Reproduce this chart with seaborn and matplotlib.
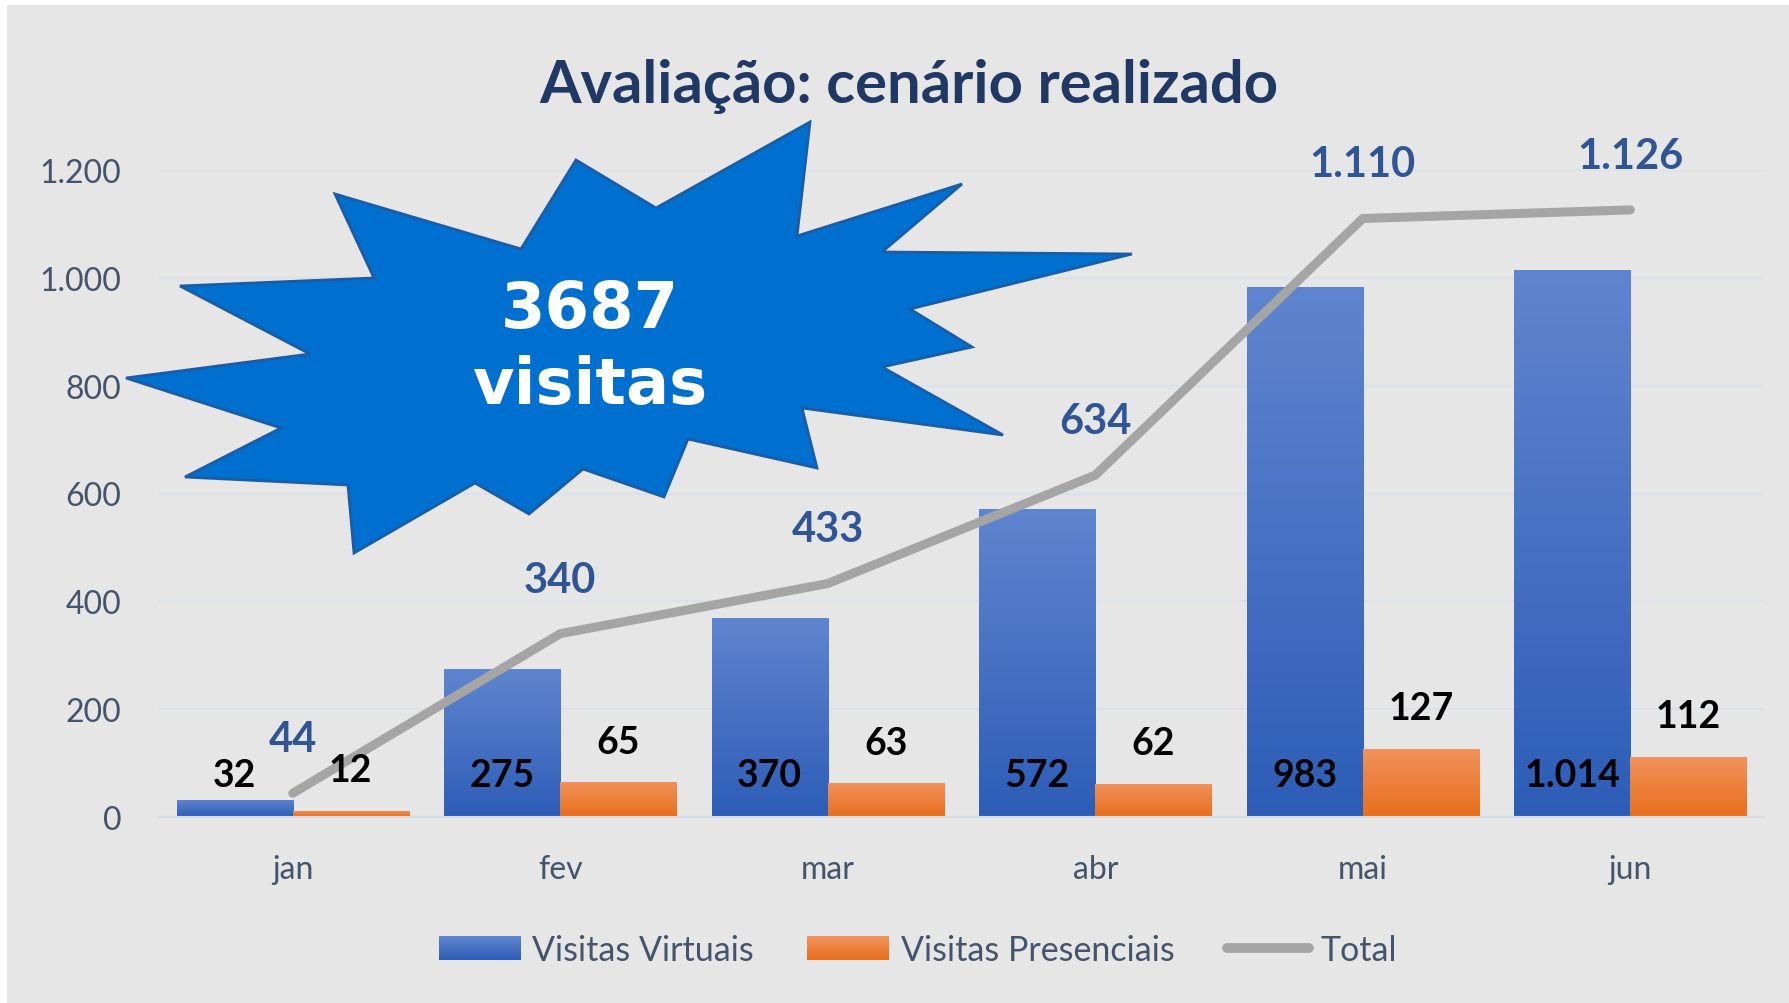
"""
Avaliação: cenário realizado — visitas virtuais, presenciais e total por mês.
Barras agrupadas com gradiente (seaborn), linha do total e destaque em estrela.
"""

import matplotlib.pyplot as plt
import numpy as np
import pandas as pd
import seaborn as sns
from matplotlib.colors import LinearSegmentedColormap
from matplotlib.legend_handler import HandlerBase
from matplotlib.lines import Line2D
from matplotlib.patches import Patch, Polygon, Rectangle


# ──────────────────────────────────────────────────────────────
# Dados
# ──────────────────────────────────────────────────────────────

meses = ["jan", "fev", "mar", "abr", "mai", "jun"]
virtuais = [32, 275, 370, 572, 983, 1014]
presenciais = [12, 65, 63, 62, 127, 112]
total = [44, 340, 433, 634, 1110, 1126]
series = ["Visitas Virtuais", "Visitas Presenciais", "Total"]
yticks = [0, 200, 400, 600, 800, 1000, 1200]
titulo = "Avaliação: cenário realizado"
destaque = ["3687", "visitas"]

# ──────────────────────────────────────────────────────────────
# Estilo
# ──────────────────────────────────────────────────────────────

sns.set_style("white")
plt.rcParams["font.family"] = ["Lato", "DejaVu Sans"]

W, H = 1789, 1004
BG = "#E6E6E6"
GRID = "#DCE1E8"
TXT = "#44546A"
AZUL_LBL = "#2F5597"
BLUE = ("#6085CF", "#2D5DB7")
ORANGE = ("#F1925D", "#E86E1C")
GREY = "#A5A5A5"


def fmt(v):
    return f"{v:,}".replace(",", ".")


def px(x, y):
    """Pixel (topo-esquerda) -> fração da figura."""
    return x / W, 1 - y / H


def gradiente(cores):
    c_top, c_bot = cores
    return LinearSegmentedColormap.from_list("g", [c_bot, c_top])


class HandlerGradiente(HandlerBase):
    """Retângulo de legenda com o mesmo gradiente vertical das barras."""

    def __init__(self, cores, n=24):
        super().__init__()
        self.cmap = gradiente(cores)
        self.n = n

    def create_artists(self, legend, orig_handle, xdescent, ydescent,
                       width, height, fontsize, trans):
        faixas = []
        for k in range(self.n):
            faixas.append(Rectangle(
                (-xdescent, -ydescent + height * k / self.n), width,
                height / self.n * 1.05, facecolor=self.cmap(k / (self.n - 1)),
                edgecolor="none", transform=trans))
        return faixas


fig = plt.figure(figsize=(W / 100, H / 100), dpi=100, facecolor="white")
fig.patches.append(
    Rectangle((7 / W, 0), 1, 1 - 6 / H, transform=fig.transFigure,
              facecolor=BG, edgecolor="none", zorder=-10)
)

x0, y_top = px(159, 171)
x1, y_bot = px(1764, 818)
ax = fig.add_axes([x0, y_bot, x1 - x0, y_top - y_bot])
ax.set_facecolor("none")

# ──────────────────────────────────────────────────────────────
# Barras
# ──────────────────────────────────────────────────────────────

df = pd.DataFrame({
    "mes": meses * 2,
    "valor": virtuais + presenciais,
    "serie": [series[0]] * len(meses) + [series[1]] * len(meses),
})

sns.barplot(
    data=df, x="mes", y="valor", hue="serie", order=meses,
    hue_order=series[:2], palette=[BLUE[1], ORANGE[1]],
    width=0.868, errorbar=None, legend=False, ax=ax,
)

# gradiente vertical em cada barra (claro em cima, escuro embaixo)
grad = np.linspace(1, 0, 256).reshape(-1, 1)
for container, cores in zip(ax.containers, [BLUE, ORANGE]):
    cmap = gradiente(cores)
    for bar in container:
        bx, by = bar.get_x(), bar.get_y()
        bw, bh = bar.get_width(), bar.get_height()
        im = ax.imshow(grad, cmap=cmap, aspect="auto", origin="upper",
                       extent=[bx, bx + bw, by, by + bh], zorder=2)
        im.set_clip_path(bar)
        bar.set_edgecolor("none")

# ──────────────────────────────────────────────────────────────
# Linha do total
# ──────────────────────────────────────────────────────────────

pos = np.arange(len(meses))
sns.lineplot(x=pos, y=total, color=GREY, linewidth=6.5, sort=False,
             solid_capstyle="round", solid_joinstyle="round", zorder=3, ax=ax)

# ──────────────────────────────────────────────────────────────
# Rótulos de dados
# ──────────────────────────────────────────────────────────────

off = 0.217
for i, (v, p, t) in enumerate(zip(virtuais, presenciais, total)):
    ax.annotate(fmt(v), (i - off, 0), xytext=(0, 30), textcoords="offset points",
                ha="center", va="center", fontsize=27, fontweight="bold",
                color="black", zorder=5, annotation_clip=False)
    ax.annotate(fmt(p), (i + off, p), xytext=(0, 29), textcoords="offset points",
                ha="center", va="center", fontsize=27, fontweight="bold",
                color="black", zorder=5, annotation_clip=False)
    ax.annotate(fmt(t), (i, t), xytext=(0, 39), textcoords="offset points",
                ha="center", va="center", fontsize=30, fontweight="bold",
                color=AZUL_LBL, zorder=5, annotation_clip=False)

# ──────────────────────────────────────────────────────────────
# Eixos
# ──────────────────────────────────────────────────────────────

ax.set_xlim(-0.5, len(meses) - 0.5)
ax.set_ylim(yticks[0], yticks[-1])
ax.set_yticks(yticks)
ax.set_yticklabels([fmt(v) for v in yticks])
ax.set_xticks(pos)
ax.set_xticklabels(meses)
ax.set_xticks(np.arange(len(meses) + 1) - 0.5, minor=True)
ax.set_xlabel("")
ax.set_ylabel("")

ax.grid(axis="y", color=GRID, linewidth=1.6)
ax.set_axisbelow(True)
for side in ["top", "right", "left"]:
    ax.spines[side].set_visible(False)
ax.spines["bottom"].set_color("#D5DCE4")
ax.spines["bottom"].set_linewidth(1.5)

ax.tick_params(axis="y", length=0, pad=27, labelsize=23, labelcolor=TXT)
ax.tick_params(axis="x", which="major", length=0, pad=26.5, labelsize=23,
               labelcolor=TXT)
ax.tick_params(axis="x", which="minor", length=8.5, width=1.5,
               color="#D5DCE4", direction="out")

# ──────────────────────────────────────────────────────────────
# Título, legenda e destaque
# ──────────────────────────────────────────────────────────────

tx, ty = px(909, 86)
fig.text(tx, ty, titulo, ha="center", va="center", fontsize=43,
         fontweight="bold", color="#1F3864")

h_virt = Patch(facecolor=BLUE[1], edgecolor="none")
h_pres = Patch(facecolor=ORANGE[1], edgecolor="none")
h_total = Line2D([0], [0], color=GREY, linewidth=7, solid_capstyle="round")
lx, ly = px(918, 951)
fig.legend([h_virt, h_pres, h_total], series, loc="center",
           bbox_to_anchor=(lx, ly), ncol=3, frameon=False, fontsize=24.5,
           labelcolor=TXT, handlelength=2.4, handleheight=0.7,
           handletextpad=0.35, columnspacing=1.55,
           handler_map={h_virt: HandlerGradiente(BLUE),
                        h_pres: HandlerGradiente(ORANGE)})

# estrela (forma decorativa), em pixels da figura
estrela = [
    (810, 123), (797, 237), (962, 185), (882, 253), (1132, 255), (910, 310),
    (972, 348), (882, 368), (1003, 436), (802, 409), (817, 469), (688, 440),
    (664, 498), (583, 470), (529, 515), (475, 484), (354, 554), (348, 486),
    (185, 478), (281, 429), (126, 379), (310, 355), (180, 287), (374, 279),
    (335, 195), (521, 250), (576, 161), (656, 209),
]
fig.patches.append(
    Polygon([px(x, y) for x, y in estrela], closed=True,
            transform=fig.transFigure, facecolor="#0070D0",
            edgecolor="#1A5CA6", linewidth=2, zorder=10)
)
for linha, yy in zip(destaque, [310, 386]):
    sx, sy = px(590, yy)
    fig.text(sx, sy, linha, ha="center", va="center", fontsize=46,
             fontweight="bold", color="white", zorder=11,
             family=["DejaVu Sans"])

fig.savefig("out.png", dpi=100, facecolor=fig.get_facecolor())
